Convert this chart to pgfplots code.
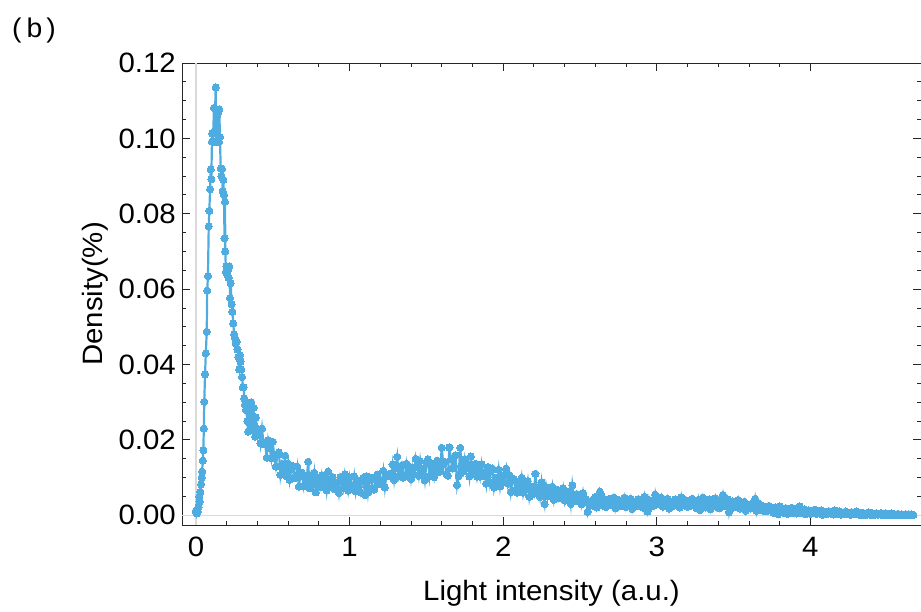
\documentclass[border=0pt]{standalone}
\usepackage{fontspec}
\setmainfont{Liberation Sans}[FakeStretch=1.05]
\usepackage{pgfplots}
\pgfplotsset{compat=1.18}
\definecolor{pc}{RGB}{78,172,224}
\begin{document}
\begin{tikzpicture}
\path[use as bounding box] (-182pt,-86pt) rectangle (739pt,525pt);
\node[anchor=west, inner sep=0pt, font=\fontsize{27}{27}\selectfont] at (-170pt,494pt) {(\hspace{5pt}b\hspace{4pt})};
\begin{axis}[
 at={(0pt,0pt)}, anchor=south west,
 scale only axis, width=739pt, height=462pt,
 xmin=-0.091, xmax=4.72, ymin=-0.00257, ymax=0.12,
 xtick={0,1,2,3,4}, minor x tick num=4,
 ytick={0,0.02,0.04,0.06,0.08,0.10,0.12}, minor y tick num=3,
 extra x ticks={0}, extra x tick labels={},
 extra y ticks={0}, extra y tick labels={},
 extra tick style={grid=major, major grid style={black!15, line width=1.4pt}, major tick length=0pt},
 tick align=inside, major tick length=8pt, minor tick length=4pt,
 axis line style={black!85, line width=0.9pt},
 every tick/.style={black!85, line width=0.9pt},
 /pgf/number format/assume math mode=true,
 ticklabel style={font=\fontsize{28}{28}\selectfont},
 yticklabel style={/pgf/number format/.cd, fixed, fixed zerofill, precision=2, /tikz/.cd, inner sep=0pt, xshift=-6pt},
 xticklabel style={inner sep=0pt, yshift=-12pt},
 xlabel={Light intensity (a.u.)}, ylabel={Density(\%)},
 label style={font=\fontsize{28}{28}\selectfont},
 xlabel style={at={(axis description cs:0.5,0)}, anchor=center, yshift=-68pt},
 ylabel style={at={(axis description cs:-0.1177,0.5)}, anchor=center, rotate=0},
]
\addplot[color=pc, line width=2.2pt, mark=*, mark size=3.6pt, mark options={fill=pc, draw=pc, line width=0pt}] coordinates {
(0.000,0.0012)(0.004,0.0005)(0.008,0.0014)(0.012,0.0010)(0.016,0.0022)(0.021,0.0049)(0.023,0.0036)(0.028,0.0062)(0.033,0.0082)(0.037,0.0100)
(0.040,0.0116)(0.044,0.0145)(0.048,0.0173)(0.051,0.0230)(0.054,0.0301)(0.059,0.0374)(0.064,0.0430)(0.070,0.0487)(0.073,0.0596)(0.078,0.0635)
(0.083,0.0767)(0.087,0.0808)(0.092,0.0865)(0.096,0.0918)(0.100,0.0892)(0.104,0.0991)(0.106,0.1013)(0.111,0.0990)(0.117,0.1081)(0.122,0.1020)
(0.128,0.1135)(0.132,0.0990)(0.137,0.1060)(0.141,0.0995)(0.145,0.1070)(0.150,0.0990)(0.152,0.1077)(0.156,0.1003)(0.161,0.0920)(0.165,0.0900)
(0.169,0.0919)(0.174,0.0860)(0.178,0.0890)(0.182,0.0850)(0.186,0.0735)(0.189,0.0832)(0.191,0.0700)(0.195,0.0646)(0.199,0.0660)(0.203,0.0640)
(0.208,0.0650)(0.212,0.0630)(0.217,0.0660)(0.222,0.0576)(0.226,0.0616)(0.232,0.0560)(0.237,0.0540)(0.243,0.0509)(0.248,0.0480)(0.254,0.0470)
(0.259,0.0455)(0.264,0.0460)(0.270,0.0440)(0.275,0.0420)(0.281,0.0387)(0.287,0.0425)(0.290,0.0408)(0.295,0.0387)(0.300,0.0367)(0.305,0.0340)
(0.310,0.0340)(0.315,0.0310)(0.320,0.0293)(0.325,0.0280)(0.330,0.0300)(0.335,0.0250)(0.340,0.0222)(0.345,0.0290)(0.350,0.0275)(0.355,0.0240)
(0.360,0.0300)(0.365,0.0260)(0.370,0.0230)(0.375,0.0285)(0.380,0.0240)(0.385,0.0209)(0.390,0.0260)(0.395,0.0230)(0.400,0.0215)
(0.41,0.0225)(0.42,0.0191)(0.43,0.0230)(0.44,0.0189)(0.45,0.0194)(0.46,0.0153)(0.47,0.0199)(0.48,0.0179)(0.49,0.0152)(0.50,0.0195)
(0.51,0.0153)(0.52,0.0129)(0.53,0.0161)(0.54,0.0167)(0.55,0.0107)(0.56,0.0136)(0.57,0.0122)(0.58,0.0158)(0.59,0.0104)(0.60,0.0137)
(0.61,0.0094)(0.62,0.0121)(0.63,0.0131)(0.64,0.0098)(0.65,0.0105)(0.66,0.0129)(0.67,0.0076)(0.68,0.0109)(0.69,0.0113)(0.70,0.0077)
(0.71,0.0098)(0.72,0.0088)(0.73,0.0142)(0.74,0.0072)(0.75,0.0105)(0.76,0.0083)(0.77,0.0113)(0.78,0.0061)(0.79,0.0097)(0.80,0.0090)
(0.81,0.0076)(0.82,0.0106)(0.83,0.0084)(0.84,0.0097)(0.85,0.0066)(0.86,0.0116)(0.87,0.0077)(0.88,0.0090)(0.89,0.0101)(0.90,0.0070)
(0.91,0.0081)(0.92,0.0088)(0.93,0.0059)(0.94,0.0101)(0.95,0.0089)(0.96,0.0071)(0.97,0.0109)(0.98,0.0089)(0.99,0.0066)(1.00,0.0101)
(1.01,0.0079)(1.02,0.0071)(1.03,0.0103)(1.04,0.0064)(1.05,0.0094)(1.06,0.0077)(1.07,0.0061)(1.08,0.0091)(1.09,0.0100)(1.10,0.0054)
(1.11,0.0104)(1.12,0.0060)(1.13,0.0093)(1.14,0.0100)(1.15,0.0072)(1.16,0.0068)(1.17,0.0096)(1.18,0.0108)(1.19,0.0083)(1.20,0.0092)
(1.21,0.0089)(1.22,0.0118)(1.23,0.0074)(1.24,0.0108)(1.25,0.0105)(1.26,0.0110)(1.27,0.0104)(1.28,0.0135)(1.29,0.0094)(1.30,0.0126)
(1.31,0.0155)(1.32,0.0104)(1.33,0.0119)(1.34,0.0132)(1.35,0.0100)(1.36,0.0103)(1.37,0.0137)(1.38,0.0113)(1.39,0.0129)(1.40,0.0096)
(1.41,0.0126)(1.42,0.0108)(1.43,0.0150)(1.44,0.0129)(1.45,0.0105)(1.46,0.0144)(1.47,0.0114)(1.48,0.0123)(1.49,0.0093)(1.50,0.0138)
(1.51,0.0148)(1.52,0.0103)(1.53,0.0137)(1.54,0.0119)(1.55,0.0101)(1.56,0.0135)(1.57,0.0145)(1.58,0.0114)(1.59,0.0124)(1.60,0.0179)
(1.61,0.0135)(1.62,0.0142)(1.63,0.0110)(1.64,0.0105)(1.65,0.0180)(1.66,0.0149)(1.67,0.0124)(1.68,0.0131)(1.69,0.0159)(1.70,0.0080)
(1.71,0.0104)(1.72,0.0179)(1.73,0.0132)(1.74,0.0116)(1.75,0.0149)(1.76,0.0124)(1.77,0.0135)(1.78,0.0103)(1.79,0.0156)(1.80,0.0113)
(1.81,0.0127)(1.82,0.0137)(1.83,0.0103)(1.84,0.0128)(1.85,0.0103)(1.86,0.0135)(1.87,0.0105)(1.88,0.0115)(1.89,0.0084)(1.90,0.0128)
(1.91,0.0088)(1.92,0.0117)(1.93,0.0124)(1.94,0.0074)(1.95,0.0100)(1.96,0.0090)(1.97,0.0121)(1.98,0.0077)(1.99,0.0106)(2.00,0.0087)
(2.01,0.0105)(2.02,0.0124)(2.03,0.0084)(2.04,0.0107)(2.05,0.0062)(2.06,0.0092)(2.07,0.0096)(2.08,0.0066)(2.09,0.0060)(2.10,0.0085)
(2.11,0.0074)(2.12,0.0100)(2.13,0.0060)(2.14,0.0086)(2.15,0.0068)(2.16,0.0091)(2.17,0.0049)(2.18,0.0077)(2.19,0.0071)(2.20,0.0058)
(2.21,0.0110)(2.22,0.0064)(2.23,0.0074)(2.24,0.0049)(2.25,0.0088)(2.26,0.0056)(2.27,0.0030)(2.28,0.0075)(2.29,0.0050)(2.30,0.0069)
(2.31,0.0051)(2.32,0.0076)(2.33,0.0041)(2.34,0.0064)(2.35,0.0068)(2.36,0.0045)(2.37,0.0058)(2.38,0.0051)(2.39,0.0072)(2.40,0.0039)
(2.41,0.0060)(2.42,0.0045)(2.43,0.0063)(2.44,0.0030)(2.45,0.0080)(2.46,0.0047)(2.47,0.0037)(2.48,0.0056)(2.49,0.0040)(2.50,0.0049)
(2.51,0.0029)(2.52,0.0059)(2.53,0.0034)(2.54,0.0042)(2.55,0.0009)(2.56,0.0029)(2.57,0.0037)(2.58,0.0026)(2.59,0.0044)(2.60,0.0049)
(2.61,0.0021)(2.62,0.0036)(2.63,0.0063)(2.64,0.0050)(2.65,0.0026)(2.66,0.0043)(2.67,0.0022)(2.68,0.0038)(2.69,0.0044)(2.70,0.0028)
(2.71,0.0032)(2.72,0.0047)(2.73,0.0019)(2.74,0.0038)(2.75,0.0041)(2.76,0.0024)(2.77,0.0035)(2.78,0.0030)(2.79,0.0047)(2.80,0.0022)
(2.81,0.0039)(2.82,0.0028)(2.83,0.0044)(2.84,0.0017)(2.85,0.0036)(2.86,0.0033)(2.87,0.0025)(2.88,0.0043)(2.89,0.0030)(2.90,0.0038)
(2.91,0.0020)(2.92,0.0049)(2.93,0.0027)(2.94,0.0010)(2.95,0.0041)(2.96,0.0023)(2.97,0.0038)(2.98,0.0025)(2.99,0.0055)(3.00,0.0030)
(3.01,0.0034)(3.02,0.0030)(3.03,0.0047)(3.04,0.0023)(3.05,0.0039)(3.06,0.0029)(3.07,0.0044)(3.08,0.0018)(3.09,0.0036)(3.10,0.0033)
(3.11,0.0025)(3.12,0.0042)(3.13,0.0030)(3.14,0.0037)(3.15,0.0021)(3.16,0.0048)(3.17,0.0027)(3.18,0.0034)(3.19,0.0040)(3.20,0.0023)
(3.21,0.0037)(3.22,0.0025)(3.23,0.0044)(3.24,0.0029)(3.25,0.0034)(3.26,0.0019)(3.27,0.0041)(3.28,0.0014)(3.29,0.0026)(3.30,0.0047)
(3.31,0.0030)(3.32,0.0021)(3.33,0.0037)(3.34,0.0042)(3.35,0.0016)(3.36,0.0031)(3.37,0.0027)(3.38,0.0045)(3.39,0.0022)(3.40,0.0039)
(3.41,0.0019)(3.42,0.0034)(3.43,0.0054)(3.44,0.0024)(3.45,0.0029)(3.46,0.0042)(3.47,0.0008)(3.48,0.0034)(3.49,0.0037)(3.50,0.0021)
(3.51,0.0031)(3.52,0.0026)(3.53,0.0041)(3.54,0.0018)(3.55,0.0033)(3.56,0.0023)(3.57,0.0036)(3.58,0.0012)(3.59,0.0028)(3.60,0.0025)
(3.61,0.0018)(3.62,0.0031)(3.63,0.0021)(3.64,0.0044)(3.65,0.0012)(3.66,0.0033)(3.67,0.0015)(3.68,0.0021)(3.69,0.0025)(3.70,0.0011)
(3.71,0.0021)(3.72,0.0012)(3.73,0.0025)(3.74,0.0014)(3.75,0.0017)(3.76,0.0007)(3.77,0.0021)(3.78,0.0017)(3.79,0.0003)(3.80,0.0024)
(3.81,0.0013)(3.82,0.0007)(3.83,0.0017)(3.84,0.0019)(3.85,0.0004)(3.86,0.0013)(3.87,0.0010)(3.88,0.0020)(3.89,0.0006)(3.90,0.0016)
(3.91,0.0005)(3.92,0.0013)(3.93,0.0024)(3.94,0.0007)(3.95,0.0010)(3.96,0.0016)(3.97,0.0003)(3.98,0.0012)(3.99,0.0013)(4.00,0.0004)
(4.01,0.0010)(4.02,0.0007)(4.03,0.0015)(4.04,0.0004)(4.05,0.0011)(4.06,0.0006)(4.07,0.0013)(4.08,0.0001)(4.09,0.0009)(4.10,0.0008)
(4.11,0.0004)(4.12,0.0011)(4.13,0.0006)(4.14,0.0009)(4.15,0.0002)(4.16,0.0013)(4.17,0.0004)(4.18,0.0007)(4.19,0.0010)(4.20,0.0002)
(4.21,0.0007)(4.22,0.0003)(4.23,0.0010)(4.24,0.0005)(4.25,0.0006)(4.26,0.0001)(4.27,0.0008)(4.28,0.0006)(4.29,0.0003)(4.30,0.0010)
(4.31,0.0004)(4.32,0.0001)(4.33,0.0006)(4.34,0.0007)(4.35,0.0000)(4.36,0.0004)(4.37,0.0002)(4.38,0.0008)(4.39,0.0001)(4.40,0.0006)
(4.41,0.0000)(4.42,0.0004)(4.43,0.0006)(4.44,0.0002)(4.45,0.0003)(4.46,0.0006)(4.47,0.0000)(4.48,0.0004)(4.49,0.0005)(4.50,0.0000)
(4.51,0.0003)(4.52,0.0002)(4.53,0.0005)(4.54,0.0000)(4.55,0.0003)(4.56,0.0001)(4.57,0.0004)(4.58,0.0000)(4.59,0.0002)(4.60,0.00015)
(4.61,0.0001)(4.62,0.0003)(4.63,0.00005)(4.64,0.0002)(4.65,0.0001)(4.66,0.00025)(4.67,0.0001)
};
\end{axis}
\end{tikzpicture}
\end{document}
